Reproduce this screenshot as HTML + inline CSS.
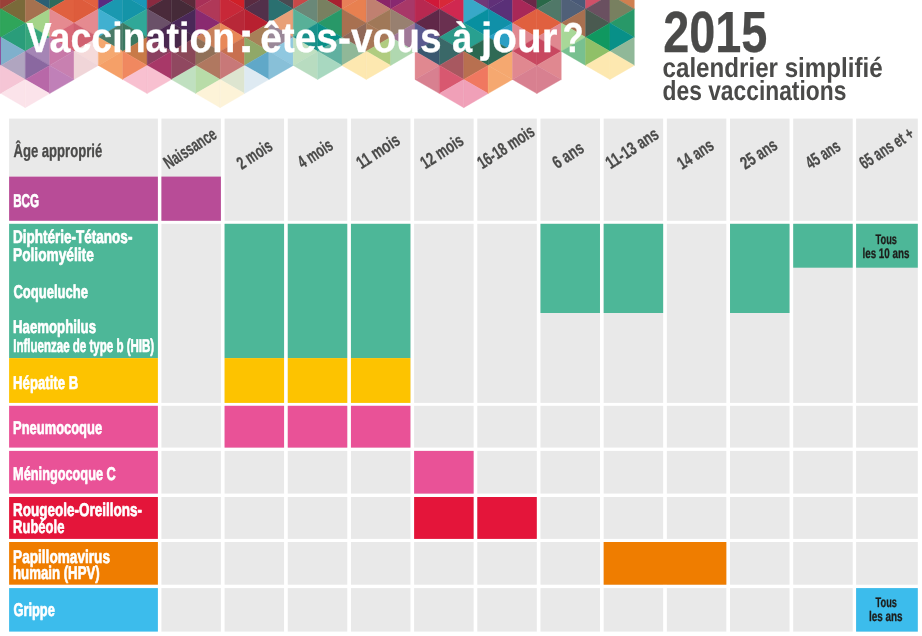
<!DOCTYPE html>
<html lang="fr"><head><meta charset="utf-8"><title>Vaccination : êtes-vous à jour ?</title>
<style>
html,body{margin:0;padding:0;background:#fff;overflow:hidden;}
svg{display:block;}
text{font-family:"Liberation Sans",sans-serif;font-weight:700;}
</style></head><body>
<svg width="922" height="636" viewBox="0 0 922 636" shape-rendering="geometricPrecision" text-rendering="geometricPrecision">
<g shape-rendering="geometricPrecision"><polygon points="0.94,-19.20 0.94,9.00 -23.42,-5.10" fill="#9a4038" stroke="#9a4038" stroke-width="0.4"/>
<polygon points="-23.42,-5.10 -23.42,23.09 0.94,9.00" fill="#2fa55a" stroke="#2fa55a" stroke-width="0.4"/>
<polygon points="0.94,9.00 0.94,37.19 -23.42,23.09" fill="#2fa55a" stroke="#2fa55a" stroke-width="0.4"/>
<polygon points="-23.42,23.09 -23.42,51.28 0.94,37.19" fill="#8a2a8a" stroke="#8a2a8a" stroke-width="0.4"/>
<polygon points="0.94,37.19 0.94,65.38 -23.42,51.28" fill="#8a2a8a" stroke="#8a2a8a" stroke-width="0.4"/>
<polygon points="-23.42,51.28 -23.42,79.47 0.94,65.38" fill="#f5c5d5" stroke="#f5c5d5" stroke-width="0.4"/>
<polygon points="0.94,65.38 0.94,93.57 -23.42,79.47" fill="#f5c5d5" stroke="#f5c5d5" stroke-width="0.4"/>
<polygon points="0.94,-19.20 0.94,9.00 25.30,-5.10" fill="#9a4038" stroke="#9a4038" stroke-width="0.4"/>
<polygon points="25.30,-5.10 25.30,23.09 0.94,9.00" fill="#7a6a3a" stroke="#7a6a3a" stroke-width="0.4"/>
<polygon points="0.94,9.00 0.94,37.19 25.30,23.09" fill="#2fa55a" stroke="#2fa55a" stroke-width="0.4"/>
<polygon points="25.30,23.09 25.30,51.28 0.94,37.19" fill="#2a9d7a" stroke="#2a9d7a" stroke-width="0.4"/>
<polygon points="0.94,37.19 0.94,65.38 25.30,51.28" fill="#7fb0cc" stroke="#7fb0cc" stroke-width="0.4"/>
<polygon points="25.30,51.28 25.30,79.47 0.94,65.38" fill="#b0a5c0" stroke="#b0a5c0" stroke-width="0.4"/>
<polygon points="0.94,65.38 0.94,93.57 25.30,79.47" fill="#f5c5d5" stroke="#f5c5d5" stroke-width="0.4"/>
<polygon points="25.30,79.47 25.30,107.66 0.94,93.57" fill="#fbe3ea" stroke="#fbe3ea" stroke-width="0.4"/>
<polygon points="49.66,-19.20 49.66,9.00 25.30,-5.10" fill="#2b5f74" stroke="#2b5f74" stroke-width="0.4"/>
<polygon points="25.30,-5.10 25.30,23.09 49.66,9.00" fill="#a5714f" stroke="#a5714f" stroke-width="0.4"/>
<polygon points="49.66,9.00 49.66,37.19 25.30,23.09" fill="#a5d48a" stroke="#a5d48a" stroke-width="0.4"/>
<polygon points="25.30,23.09 25.30,51.28 49.66,37.19" fill="#35a57c" stroke="#35a57c" stroke-width="0.4"/>
<polygon points="49.66,37.19 49.66,65.38 25.30,51.28" fill="#a585b5" stroke="#a585b5" stroke-width="0.4"/>
<polygon points="25.30,51.28 25.30,79.47 49.66,65.38" fill="#8a68a0" stroke="#8a68a0" stroke-width="0.4"/>
<polygon points="49.66,65.38 49.66,93.57 25.30,79.47" fill="#b868a8" stroke="#b868a8" stroke-width="0.4"/>
<polygon points="25.30,79.47 25.30,107.66 49.66,93.57" fill="#fbe3ea" stroke="#fbe3ea" stroke-width="0.4"/>
<polygon points="49.66,-19.20 49.66,9.00 74.02,-5.10" fill="#2d6b5c" stroke="#2d6b5c" stroke-width="0.4"/>
<polygon points="74.02,-5.10 74.02,23.09 49.66,9.00" fill="#e0603f" stroke="#e0603f" stroke-width="0.4"/>
<polygon points="49.66,9.00 49.66,37.19 74.02,23.09" fill="#e58a90" stroke="#e58a90" stroke-width="0.4"/>
<polygon points="74.02,23.09 74.02,51.28 49.66,37.19" fill="#d86878" stroke="#d86878" stroke-width="0.4"/>
<polygon points="49.66,37.19 49.66,65.38 74.02,51.28" fill="#c878a8" stroke="#c878a8" stroke-width="0.4"/>
<polygon points="74.02,51.28 74.02,79.47 49.66,65.38" fill="#c880b0" stroke="#c880b0" stroke-width="0.4"/>
<polygon points="49.66,65.38 49.66,93.57 74.02,79.47" fill="#c080b8" stroke="#c080b8" stroke-width="0.4"/>
<polygon points="98.38,-19.20 98.38,9.00 74.02,-5.10" fill="#e2603f" stroke="#e2603f" stroke-width="0.4"/>
<polygon points="74.02,-5.10 74.02,23.09 98.38,9.00" fill="#de5c3c" stroke="#de5c3c" stroke-width="0.4"/>
<polygon points="98.38,9.00 98.38,37.19 74.02,23.09" fill="#e58a90" stroke="#e58a90" stroke-width="0.4"/>
<polygon points="74.02,23.09 74.02,51.28 98.38,37.19" fill="#d06070" stroke="#d06070" stroke-width="0.4"/>
<polygon points="98.38,37.19 98.38,65.38 74.02,51.28" fill="#f5dada" stroke="#f5dada" stroke-width="0.4"/>
<polygon points="74.02,51.28 74.02,79.47 98.38,65.38" fill="#f0d5d8" stroke="#f0d5d8" stroke-width="0.4"/>
<polygon points="98.38,-19.20 98.38,9.00 122.74,-5.10" fill="#5a2a80" stroke="#5a2a80" stroke-width="0.4"/>
<polygon points="122.74,-5.10 122.74,23.09 98.38,9.00" fill="#1a98b0" stroke="#1a98b0" stroke-width="0.4"/>
<polygon points="98.38,9.00 98.38,37.19 122.74,23.09" fill="#40b0d0" stroke="#40b0d0" stroke-width="0.4"/>
<polygon points="122.74,23.09 122.74,51.28 98.38,37.19" fill="#4a7a68" stroke="#4a7a68" stroke-width="0.4"/>
<polygon points="98.38,37.19 98.38,65.38 122.74,51.28" fill="#f5a870" stroke="#f5a870" stroke-width="0.4"/>
<polygon points="122.74,51.28 122.74,79.47 98.38,65.38" fill="#f5a068" stroke="#f5a068" stroke-width="0.4"/>
<polygon points="147.10,-19.20 147.10,9.00 122.74,-5.10" fill="#1a98b8" stroke="#1a98b8" stroke-width="0.4"/>
<polygon points="122.74,-5.10 122.74,23.09 147.10,9.00" fill="#1494a8" stroke="#1494a8" stroke-width="0.4"/>
<polygon points="147.10,9.00 147.10,37.19 122.74,23.09" fill="#30a898" stroke="#30a898" stroke-width="0.4"/>
<polygon points="122.74,23.09 122.74,51.28 147.10,37.19" fill="#3a7860" stroke="#3a7860" stroke-width="0.4"/>
<polygon points="147.10,37.19 147.10,65.38 122.74,51.28" fill="#c87a48" stroke="#c87a48" stroke-width="0.4"/>
<polygon points="122.74,51.28 122.74,79.47 147.10,65.38" fill="#f08860" stroke="#f08860" stroke-width="0.4"/>
<polygon points="147.10,65.38 147.10,93.57 122.74,79.47" fill="#f8c0d0" stroke="#f8c0d0" stroke-width="0.4"/>
<polygon points="147.10,-19.20 147.10,9.00 171.46,-5.10" fill="#8a2a40" stroke="#8a2a40" stroke-width="0.4"/>
<polygon points="171.46,-5.10 171.46,23.09 147.10,9.00" fill="#4a2a3a" stroke="#4a2a3a" stroke-width="0.4"/>
<polygon points="147.10,9.00 147.10,37.19 171.46,23.09" fill="#6a5068" stroke="#6a5068" stroke-width="0.4"/>
<polygon points="171.46,23.09 171.46,51.28 147.10,37.19" fill="#4a2850" stroke="#4a2850" stroke-width="0.4"/>
<polygon points="147.10,37.19 147.10,65.38 171.46,51.28" fill="#8a4060" stroke="#8a4060" stroke-width="0.4"/>
<polygon points="171.46,51.28 171.46,79.47 147.10,65.38" fill="#a83868" stroke="#a83868" stroke-width="0.4"/>
<polygon points="147.10,65.38 147.10,93.57 171.46,79.47" fill="#f8c0d0" stroke="#f8c0d0" stroke-width="0.4"/>
<polygon points="195.82,-19.20 195.82,9.00 171.46,-5.10" fill="#5a2a3a" stroke="#5a2a3a" stroke-width="0.4"/>
<polygon points="171.46,-5.10 171.46,23.09 195.82,9.00" fill="#452a38" stroke="#452a38" stroke-width="0.4"/>
<polygon points="195.82,9.00 195.82,37.19 171.46,23.09" fill="#4a2858" stroke="#4a2858" stroke-width="0.4"/>
<polygon points="171.46,23.09 171.46,51.28 195.82,37.19" fill="#48284a" stroke="#48284a" stroke-width="0.4"/>
<polygon points="195.82,37.19 195.82,65.38 171.46,51.28" fill="#8a4858" stroke="#8a4858" stroke-width="0.4"/>
<polygon points="171.46,51.28 171.46,79.47 195.82,65.38" fill="#904860" stroke="#904860" stroke-width="0.4"/>
<polygon points="195.82,65.38 195.82,93.57 171.46,79.47" fill="#c0e0c0" stroke="#c0e0c0" stroke-width="0.4"/>
<polygon points="195.82,-19.20 195.82,9.00 220.18,-5.10" fill="#a83058" stroke="#a83058" stroke-width="0.4"/>
<polygon points="220.18,-5.10 220.18,23.09 195.82,9.00" fill="#b03858" stroke="#b03858" stroke-width="0.4"/>
<polygon points="195.82,9.00 195.82,37.19 220.18,23.09" fill="#8a2a70" stroke="#8a2a70" stroke-width="0.4"/>
<polygon points="220.18,23.09 220.18,51.28 195.82,37.19" fill="#c8805a" stroke="#c8805a" stroke-width="0.4"/>
<polygon points="195.82,37.19 195.82,65.38 220.18,51.28" fill="#907058" stroke="#907058" stroke-width="0.4"/>
<polygon points="220.18,51.28 220.18,79.47 195.82,65.38" fill="#b07860" stroke="#b07860" stroke-width="0.4"/>
<polygon points="195.82,65.38 195.82,93.57 220.18,79.47" fill="#b8dca8" stroke="#b8dca8" stroke-width="0.4"/>
<polygon points="220.18,79.47 220.18,107.66 195.82,93.57" fill="#fdf3d8" stroke="#fdf3d8" stroke-width="0.4"/>
<polygon points="244.54,-19.20 244.54,9.00 220.18,-5.10" fill="#d02028" stroke="#d02028" stroke-width="0.4"/>
<polygon points="220.18,-5.10 220.18,23.09 244.54,9.00" fill="#c82838" stroke="#c82838" stroke-width="0.4"/>
<polygon points="244.54,9.00 244.54,37.19 220.18,23.09" fill="#b82838" stroke="#b82838" stroke-width="0.4"/>
<polygon points="220.18,23.09 220.18,51.28 244.54,37.19" fill="#e88858" stroke="#e88858" stroke-width="0.4"/>
<polygon points="244.54,37.19 244.54,65.38 220.18,51.28" fill="#c87050" stroke="#c87050" stroke-width="0.4"/>
<polygon points="220.18,51.28 220.18,79.47 244.54,65.38" fill="#c87878" stroke="#c87878" stroke-width="0.4"/>
<polygon points="244.54,65.38 244.54,93.57 220.18,79.47" fill="#dde5d0" stroke="#dde5d0" stroke-width="0.4"/>
<polygon points="220.18,79.47 220.18,107.66 244.54,93.57" fill="#fdf3d8" stroke="#fdf3d8" stroke-width="0.4"/>
<polygon points="244.54,-19.20 244.54,9.00 268.90,-5.10" fill="#5a2a40" stroke="#5a2a40" stroke-width="0.4"/>
<polygon points="268.90,-5.10 268.90,23.09 244.54,9.00" fill="#52304a" stroke="#52304a" stroke-width="0.4"/>
<polygon points="244.54,9.00 244.54,37.19 268.90,23.09" fill="#b82030" stroke="#b82030" stroke-width="0.4"/>
<polygon points="268.90,23.09 268.90,51.28 244.54,37.19" fill="#a88058" stroke="#a88058" stroke-width="0.4"/>
<polygon points="244.54,37.19 244.54,65.38 268.90,51.28" fill="#90a868" stroke="#90a868" stroke-width="0.4"/>
<polygon points="268.90,51.28 268.90,79.47 244.54,65.38" fill="#60a8c8" stroke="#60a8c8" stroke-width="0.4"/>
<polygon points="244.54,65.38 244.54,93.57 268.90,79.47" fill="#deeaf2" stroke="#deeaf2" stroke-width="0.4"/>
<polygon points="293.26,-19.20 293.26,9.00 268.90,-5.10" fill="#4a4a52" stroke="#4a4a52" stroke-width="0.4"/>
<polygon points="268.90,-5.10 268.90,23.09 293.26,9.00" fill="#2a7070" stroke="#2a7070" stroke-width="0.4"/>
<polygon points="293.26,9.00 293.26,37.19 268.90,23.09" fill="#e8a078" stroke="#e8a078" stroke-width="0.4"/>
<polygon points="268.90,23.09 268.90,51.28 293.26,37.19" fill="#9a8898" stroke="#9a8898" stroke-width="0.4"/>
<polygon points="293.26,37.19 293.26,65.38 268.90,51.28" fill="#90c8e0" stroke="#90c8e0" stroke-width="0.4"/>
<polygon points="268.90,51.28 268.90,79.47 293.26,65.38" fill="#88c0d8" stroke="#88c0d8" stroke-width="0.4"/>
<polygon points="293.26,-19.20 293.26,9.00 317.62,-5.10" fill="#c84848" stroke="#c84848" stroke-width="0.4"/>
<polygon points="317.62,-5.10 317.62,23.09 293.26,9.00" fill="#6a8878" stroke="#6a8878" stroke-width="0.4"/>
<polygon points="293.26,9.00 293.26,37.19 317.62,23.09" fill="#58b098" stroke="#58b098" stroke-width="0.4"/>
<polygon points="317.62,23.09 317.62,51.28 293.26,37.19" fill="#18908a" stroke="#18908a" stroke-width="0.4"/>
<polygon points="293.26,37.19 293.26,65.38 317.62,51.28" fill="#c0e0c0" stroke="#c0e0c0" stroke-width="0.4"/>
<polygon points="317.62,51.28 317.62,79.47 293.26,65.38" fill="#b8dcc0" stroke="#b8dcc0" stroke-width="0.4"/>
<polygon points="341.98,-19.20 341.98,9.00 317.62,-5.10" fill="#a82030" stroke="#a82030" stroke-width="0.4"/>
<polygon points="317.62,-5.10 317.62,23.09 341.98,9.00" fill="#788060" stroke="#788060" stroke-width="0.4"/>
<polygon points="341.98,9.00 341.98,37.19 317.62,23.09" fill="#289868" stroke="#289868" stroke-width="0.4"/>
<polygon points="317.62,23.09 317.62,51.28 341.98,37.19" fill="#089088" stroke="#089088" stroke-width="0.4"/>
<polygon points="341.98,37.19 341.98,65.38 317.62,51.28" fill="#60b0a0" stroke="#60b0a0" stroke-width="0.4"/>
<polygon points="317.62,51.28 317.62,79.47 341.98,65.38" fill="#a8d8c0" stroke="#a8d8c0" stroke-width="0.4"/>
<polygon points="341.98,-19.20 341.98,9.00 366.34,-5.10" fill="#e88058" stroke="#e88058" stroke-width="0.4"/>
<polygon points="366.34,-5.10 366.34,23.09 341.98,9.00" fill="#e88050" stroke="#e88050" stroke-width="0.4"/>
<polygon points="341.98,9.00 341.98,37.19 366.34,23.09" fill="#a87050" stroke="#a87050" stroke-width="0.4"/>
<polygon points="366.34,23.09 366.34,51.28 341.98,37.19" fill="#906858" stroke="#906858" stroke-width="0.4"/>
<polygon points="341.98,37.19 341.98,65.38 366.34,51.28" fill="#90b898" stroke="#90b898" stroke-width="0.4"/>
<polygon points="366.34,51.28 366.34,79.47 341.98,65.38" fill="#fde8b0" stroke="#fde8b0" stroke-width="0.4"/>
<polygon points="390.70,-19.20 390.70,9.00 366.34,-5.10" fill="#8a2468" stroke="#8a2468" stroke-width="0.4"/>
<polygon points="366.34,-5.10 366.34,23.09 390.70,9.00" fill="#c08070" stroke="#c08070" stroke-width="0.4"/>
<polygon points="390.70,9.00 390.70,37.19 366.34,23.09" fill="#a07858" stroke="#a07858" stroke-width="0.4"/>
<polygon points="366.34,23.09 366.34,51.28 390.70,37.19" fill="#a87858" stroke="#a87858" stroke-width="0.4"/>
<polygon points="390.70,37.19 390.70,65.38 366.34,51.28" fill="#b0cc80" stroke="#b0cc80" stroke-width="0.4"/>
<polygon points="366.34,51.28 366.34,79.47 390.70,65.38" fill="#fde8b0" stroke="#fde8b0" stroke-width="0.4"/>
<polygon points="390.70,-19.20 390.70,9.00 415.06,-5.10" fill="#882870" stroke="#882870" stroke-width="0.4"/>
<polygon points="415.06,-5.10 415.06,23.09 390.70,9.00" fill="#a83868" stroke="#a83868" stroke-width="0.4"/>
<polygon points="390.70,9.00 390.70,37.19 415.06,23.09" fill="#988070" stroke="#988070" stroke-width="0.4"/>
<polygon points="415.06,23.09 415.06,51.28 390.70,37.19" fill="#a07898" stroke="#a07898" stroke-width="0.4"/>
<polygon points="390.70,37.19 390.70,65.38 415.06,51.28" fill="#b0d8b0" stroke="#b0d8b0" stroke-width="0.4"/>
<polygon points="439.42,-19.20 439.42,9.00 415.06,-5.10" fill="#d01838" stroke="#d01838" stroke-width="0.4"/>
<polygon points="415.06,-5.10 415.06,23.09 439.42,9.00" fill="#b82850" stroke="#b82850" stroke-width="0.4"/>
<polygon points="439.42,9.00 439.42,37.19 415.06,23.09" fill="#602848" stroke="#602848" stroke-width="0.4"/>
<polygon points="415.06,23.09 415.06,51.28 439.42,37.19" fill="#5a5a90" stroke="#5a5a90" stroke-width="0.4"/>
<polygon points="439.42,37.19 439.42,65.38 415.06,51.28" fill="#3a5870" stroke="#3a5870" stroke-width="0.4"/>
<polygon points="415.06,51.28 415.06,79.47 439.42,65.38" fill="#e08890" stroke="#e08890" stroke-width="0.4"/>
<polygon points="439.42,65.38 439.42,93.57 415.06,79.47" fill="#d88090" stroke="#d88090" stroke-width="0.4"/>
<polygon points="439.42,-19.20 439.42,9.00 463.78,-5.10" fill="#d82838" stroke="#d82838" stroke-width="0.4"/>
<polygon points="463.78,-5.10 463.78,23.09 439.42,9.00" fill="#d02850" stroke="#d02850" stroke-width="0.4"/>
<polygon points="439.42,9.00 439.42,37.19 463.78,23.09" fill="#6a3050" stroke="#6a3050" stroke-width="0.4"/>
<polygon points="463.78,23.09 463.78,51.28 439.42,37.19" fill="#2a9888" stroke="#2a9888" stroke-width="0.4"/>
<polygon points="439.42,37.19 439.42,65.38 463.78,51.28" fill="#3a6868" stroke="#3a6868" stroke-width="0.4"/>
<polygon points="463.78,51.28 463.78,79.47 439.42,65.38" fill="#a85860" stroke="#a85860" stroke-width="0.4"/>
<polygon points="439.42,65.38 439.42,93.57 463.78,79.47" fill="#d85870" stroke="#d85870" stroke-width="0.4"/>
<polygon points="463.78,79.47 463.78,107.66 439.42,93.57" fill="#f0a0b8" stroke="#f0a0b8" stroke-width="0.4"/>
<polygon points="488.14,-19.20 488.14,9.00 463.78,-5.10" fill="#703878" stroke="#703878" stroke-width="0.4"/>
<polygon points="463.78,-5.10 463.78,23.09 488.14,9.00" fill="#38a8c8" stroke="#38a8c8" stroke-width="0.4"/>
<polygon points="488.14,9.00 488.14,37.19 463.78,23.09" fill="#0890a0" stroke="#0890a0" stroke-width="0.4"/>
<polygon points="463.78,23.09 463.78,51.28 488.14,37.19" fill="#28a090" stroke="#28a090" stroke-width="0.4"/>
<polygon points="488.14,37.19 488.14,65.38 463.78,51.28" fill="#2a6850" stroke="#2a6850" stroke-width="0.4"/>
<polygon points="463.78,51.28 463.78,79.47 488.14,65.38" fill="#b87050" stroke="#b87050" stroke-width="0.4"/>
<polygon points="488.14,65.38 488.14,93.57 463.78,79.47" fill="#f07860" stroke="#f07860" stroke-width="0.4"/>
<polygon points="463.78,79.47 463.78,107.66 488.14,93.57" fill="#f0a0b8" stroke="#f0a0b8" stroke-width="0.4"/>
<polygon points="488.14,-19.20 488.14,9.00 512.50,-5.10" fill="#603078" stroke="#603078" stroke-width="0.4"/>
<polygon points="512.50,-5.10 512.50,23.09 488.14,9.00" fill="#5a3078" stroke="#5a3078" stroke-width="0.4"/>
<polygon points="488.14,9.00 488.14,37.19 512.50,23.09" fill="#1090a8" stroke="#1090a8" stroke-width="0.4"/>
<polygon points="512.50,23.09 512.50,51.28 488.14,37.19" fill="#2a9fc4" stroke="#2a9fc4" stroke-width="0.4"/>
<polygon points="488.14,37.19 488.14,65.38 512.50,51.28" fill="#2f6a55" stroke="#2f6a55" stroke-width="0.4"/>
<polygon points="512.50,51.28 512.50,79.47 488.14,65.38" fill="#f5a870" stroke="#f5a870" stroke-width="0.4"/>
<polygon points="488.14,65.38 488.14,93.57 512.50,79.47" fill="#f5a870" stroke="#f5a870" stroke-width="0.4"/>
<polygon points="536.86,-19.20 536.86,9.00 512.50,-5.10" fill="#6a2848" stroke="#6a2848" stroke-width="0.4"/>
<polygon points="512.50,-5.10 512.50,23.09 536.86,9.00" fill="#a82858" stroke="#a82858" stroke-width="0.4"/>
<polygon points="536.86,9.00 536.86,37.19 512.50,23.09" fill="#e0603f" stroke="#e0603f" stroke-width="0.4"/>
<polygon points="512.50,23.09 512.50,51.28 536.86,37.19" fill="#e08890" stroke="#e08890" stroke-width="0.4"/>
<polygon points="536.86,37.19 536.86,65.38 512.50,51.28" fill="#c84860" stroke="#c84860" stroke-width="0.4"/>
<polygon points="512.50,51.28 512.50,79.47 536.86,65.38" fill="#e08890" stroke="#e08890" stroke-width="0.4"/>
<polygon points="536.86,65.38 536.86,93.57 512.50,79.47" fill="#d88090" stroke="#d88090" stroke-width="0.4"/>
<polygon points="536.86,-19.20 536.86,9.00 561.22,-5.10" fill="#2a6848" stroke="#2a6848" stroke-width="0.4"/>
<polygon points="561.22,-5.10 561.22,23.09 536.86,9.00" fill="#507868" stroke="#507868" stroke-width="0.4"/>
<polygon points="536.86,9.00 536.86,37.19 561.22,23.09" fill="#e0603f" stroke="#e0603f" stroke-width="0.4"/>
<polygon points="561.22,23.09 561.22,51.28 536.86,37.19" fill="#e08890" stroke="#e08890" stroke-width="0.4"/>
<polygon points="536.86,37.19 536.86,65.38 561.22,51.28" fill="#c84860" stroke="#c84860" stroke-width="0.4"/>
<polygon points="561.22,51.28 561.22,79.47 536.86,65.38" fill="#e08890" stroke="#e08890" stroke-width="0.4"/>
<polygon points="536.86,65.38 536.86,93.57 561.22,79.47" fill="#d88090" stroke="#d88090" stroke-width="0.4"/>
<polygon points="585.58,-19.20 585.58,9.00 561.22,-5.10" fill="#4a5a78" stroke="#4a5a78" stroke-width="0.4"/>
<polygon points="561.22,-5.10 561.22,23.09 585.58,9.00" fill="#506078" stroke="#506078" stroke-width="0.4"/>
<polygon points="585.58,9.00 585.58,37.19 561.22,23.09" fill="#a87050" stroke="#a87050" stroke-width="0.4"/>
<polygon points="561.22,23.09 561.22,51.28 585.58,37.19" fill="#a8d898" stroke="#a8d898" stroke-width="0.4"/>
<polygon points="585.58,37.19 585.58,65.38 561.22,51.28" fill="#78c090" stroke="#78c090" stroke-width="0.4"/>
<polygon points="585.58,-19.20 585.58,9.00 609.94,-5.10" fill="#d05068" stroke="#d05068" stroke-width="0.4"/>
<polygon points="609.94,-5.10 609.94,23.09 585.58,9.00" fill="#6a5060" stroke="#6a5060" stroke-width="0.4"/>
<polygon points="585.58,9.00 585.58,37.19 609.94,23.09" fill="#4a5a50" stroke="#4a5a50" stroke-width="0.4"/>
<polygon points="609.94,23.09 609.94,51.28 585.58,37.19" fill="#109860" stroke="#109860" stroke-width="0.4"/>
<polygon points="585.58,37.19 585.58,65.38 609.94,51.28" fill="#90c068" stroke="#90c068" stroke-width="0.4"/>
<polygon points="609.94,51.28 609.94,79.47 585.58,65.38" fill="#fde8b0" stroke="#fde8b0" stroke-width="0.4"/>
<polygon points="634.30,-19.20 634.30,9.00 609.94,-5.10" fill="#d08050" stroke="#d08050" stroke-width="0.4"/>
<polygon points="609.94,-5.10 609.94,23.09 634.30,9.00" fill="#788060" stroke="#788060" stroke-width="0.4"/>
<polygon points="634.30,9.00 634.30,37.19 609.94,23.09" fill="#289868" stroke="#289868" stroke-width="0.4"/>
<polygon points="609.94,23.09 609.94,51.28 634.30,37.19" fill="#089088" stroke="#089088" stroke-width="0.4"/>
<polygon points="634.30,37.19 634.30,65.38 609.94,51.28" fill="#90b898" stroke="#90b898" stroke-width="0.4"/>
<polygon points="609.94,51.28 609.94,79.47 634.30,65.38" fill="#fde8b0" stroke="#fde8b0" stroke-width="0.4"/></g>
<rect x="9.10" y="118.60" width="148.80" height="58.00" fill="#e9e9e9"/>
<rect x="9.10" y="176.60" width="148.80" height="44.20" fill="#b84c97"/>
<rect x="9.10" y="223.80" width="148.80" height="134.30" fill="#4db798"/>
<rect x="9.10" y="358.10" width="148.80" height="44.80" fill="#fdc300"/>
<rect x="9.10" y="405.80" width="148.80" height="41.80" fill="#e95297"/>
<rect x="9.10" y="450.90" width="148.80" height="42.70" fill="#e95297"/>
<rect x="9.10" y="497.00" width="148.80" height="41.90" fill="#e4153a"/>
<rect x="9.10" y="542.00" width="148.80" height="42.70" fill="#ef7d00"/>
<rect x="9.10" y="588.10" width="148.80" height="43.50" fill="#3cbcec"/>
<rect x="161.40" y="118.60" width="59.50" height="102.20" fill="#e9e9e9"/>
<rect x="161.40" y="223.80" width="59.50" height="179.10" fill="#e9e9e9"/>
<rect x="161.40" y="405.80" width="59.50" height="41.80" fill="#e9e9e9"/>
<rect x="161.40" y="450.90" width="59.50" height="42.70" fill="#e9e9e9"/>
<rect x="161.40" y="497.00" width="59.50" height="41.90" fill="#e9e9e9"/>
<rect x="161.40" y="542.00" width="59.50" height="42.70" fill="#e9e9e9"/>
<rect x="161.40" y="588.10" width="59.50" height="43.50" fill="#e9e9e9"/>
<rect x="224.58" y="118.60" width="59.50" height="102.20" fill="#e9e9e9"/>
<rect x="224.58" y="223.80" width="59.50" height="179.10" fill="#e9e9e9"/>
<rect x="224.58" y="405.80" width="59.50" height="41.80" fill="#e9e9e9"/>
<rect x="224.58" y="450.90" width="59.50" height="42.70" fill="#e9e9e9"/>
<rect x="224.58" y="497.00" width="59.50" height="41.90" fill="#e9e9e9"/>
<rect x="224.58" y="542.00" width="59.50" height="42.70" fill="#e9e9e9"/>
<rect x="224.58" y="588.10" width="59.50" height="43.50" fill="#e9e9e9"/>
<rect x="287.76" y="118.60" width="59.50" height="102.20" fill="#e9e9e9"/>
<rect x="287.76" y="223.80" width="59.50" height="179.10" fill="#e9e9e9"/>
<rect x="287.76" y="405.80" width="59.50" height="41.80" fill="#e9e9e9"/>
<rect x="287.76" y="450.90" width="59.50" height="42.70" fill="#e9e9e9"/>
<rect x="287.76" y="497.00" width="59.50" height="41.90" fill="#e9e9e9"/>
<rect x="287.76" y="542.00" width="59.50" height="42.70" fill="#e9e9e9"/>
<rect x="287.76" y="588.10" width="59.50" height="43.50" fill="#e9e9e9"/>
<rect x="350.94" y="118.60" width="59.50" height="102.20" fill="#e9e9e9"/>
<rect x="350.94" y="223.80" width="59.50" height="179.10" fill="#e9e9e9"/>
<rect x="350.94" y="405.80" width="59.50" height="41.80" fill="#e9e9e9"/>
<rect x="350.94" y="450.90" width="59.50" height="42.70" fill="#e9e9e9"/>
<rect x="350.94" y="497.00" width="59.50" height="41.90" fill="#e9e9e9"/>
<rect x="350.94" y="542.00" width="59.50" height="42.70" fill="#e9e9e9"/>
<rect x="350.94" y="588.10" width="59.50" height="43.50" fill="#e9e9e9"/>
<rect x="414.12" y="118.60" width="59.50" height="102.20" fill="#e9e9e9"/>
<rect x="414.12" y="223.80" width="59.50" height="179.10" fill="#e9e9e9"/>
<rect x="414.12" y="405.80" width="59.50" height="41.80" fill="#e9e9e9"/>
<rect x="414.12" y="450.90" width="59.50" height="42.70" fill="#e9e9e9"/>
<rect x="414.12" y="497.00" width="59.50" height="41.90" fill="#e9e9e9"/>
<rect x="414.12" y="542.00" width="59.50" height="42.70" fill="#e9e9e9"/>
<rect x="414.12" y="588.10" width="59.50" height="43.50" fill="#e9e9e9"/>
<rect x="477.30" y="118.60" width="59.50" height="102.20" fill="#e9e9e9"/>
<rect x="477.30" y="223.80" width="59.50" height="179.10" fill="#e9e9e9"/>
<rect x="477.30" y="405.80" width="59.50" height="41.80" fill="#e9e9e9"/>
<rect x="477.30" y="450.90" width="59.50" height="42.70" fill="#e9e9e9"/>
<rect x="477.30" y="497.00" width="59.50" height="41.90" fill="#e9e9e9"/>
<rect x="477.30" y="542.00" width="59.50" height="42.70" fill="#e9e9e9"/>
<rect x="477.30" y="588.10" width="59.50" height="43.50" fill="#e9e9e9"/>
<rect x="540.48" y="118.60" width="59.50" height="102.20" fill="#e9e9e9"/>
<rect x="540.48" y="223.80" width="59.50" height="179.10" fill="#e9e9e9"/>
<rect x="540.48" y="405.80" width="59.50" height="41.80" fill="#e9e9e9"/>
<rect x="540.48" y="450.90" width="59.50" height="42.70" fill="#e9e9e9"/>
<rect x="540.48" y="497.00" width="59.50" height="41.90" fill="#e9e9e9"/>
<rect x="540.48" y="542.00" width="59.50" height="42.70" fill="#e9e9e9"/>
<rect x="540.48" y="588.10" width="59.50" height="43.50" fill="#e9e9e9"/>
<rect x="603.66" y="118.60" width="59.50" height="102.20" fill="#e9e9e9"/>
<rect x="603.66" y="223.80" width="59.50" height="179.10" fill="#e9e9e9"/>
<rect x="603.66" y="405.80" width="59.50" height="41.80" fill="#e9e9e9"/>
<rect x="603.66" y="450.90" width="59.50" height="42.70" fill="#e9e9e9"/>
<rect x="603.66" y="497.00" width="59.50" height="41.90" fill="#e9e9e9"/>
<rect x="603.66" y="542.00" width="59.50" height="42.70" fill="#e9e9e9"/>
<rect x="603.66" y="588.10" width="59.50" height="43.50" fill="#e9e9e9"/>
<rect x="666.84" y="118.60" width="59.50" height="102.20" fill="#e9e9e9"/>
<rect x="666.84" y="223.80" width="59.50" height="179.10" fill="#e9e9e9"/>
<rect x="666.84" y="405.80" width="59.50" height="41.80" fill="#e9e9e9"/>
<rect x="666.84" y="450.90" width="59.50" height="42.70" fill="#e9e9e9"/>
<rect x="666.84" y="497.00" width="59.50" height="41.90" fill="#e9e9e9"/>
<rect x="666.84" y="542.00" width="59.50" height="42.70" fill="#e9e9e9"/>
<rect x="666.84" y="588.10" width="59.50" height="43.50" fill="#e9e9e9"/>
<rect x="730.02" y="118.60" width="59.50" height="102.20" fill="#e9e9e9"/>
<rect x="730.02" y="223.80" width="59.50" height="179.10" fill="#e9e9e9"/>
<rect x="730.02" y="405.80" width="59.50" height="41.80" fill="#e9e9e9"/>
<rect x="730.02" y="450.90" width="59.50" height="42.70" fill="#e9e9e9"/>
<rect x="730.02" y="497.00" width="59.50" height="41.90" fill="#e9e9e9"/>
<rect x="730.02" y="542.00" width="59.50" height="42.70" fill="#e9e9e9"/>
<rect x="730.02" y="588.10" width="59.50" height="43.50" fill="#e9e9e9"/>
<rect x="793.20" y="118.60" width="59.50" height="102.20" fill="#e9e9e9"/>
<rect x="793.20" y="223.80" width="59.50" height="179.10" fill="#e9e9e9"/>
<rect x="793.20" y="405.80" width="59.50" height="41.80" fill="#e9e9e9"/>
<rect x="793.20" y="450.90" width="59.50" height="42.70" fill="#e9e9e9"/>
<rect x="793.20" y="497.00" width="59.50" height="41.90" fill="#e9e9e9"/>
<rect x="793.20" y="542.00" width="59.50" height="42.70" fill="#e9e9e9"/>
<rect x="793.20" y="588.10" width="59.50" height="43.50" fill="#e9e9e9"/>
<rect x="856.10" y="118.60" width="61.70" height="102.20" fill="#e9e9e9"/>
<rect x="856.10" y="223.80" width="61.70" height="179.10" fill="#e9e9e9"/>
<rect x="856.10" y="405.80" width="61.70" height="41.80" fill="#e9e9e9"/>
<rect x="856.10" y="450.90" width="61.70" height="42.70" fill="#e9e9e9"/>
<rect x="856.10" y="497.00" width="61.70" height="41.90" fill="#e9e9e9"/>
<rect x="856.10" y="542.00" width="61.70" height="42.70" fill="#e9e9e9"/>
<rect x="856.10" y="588.10" width="61.70" height="43.50" fill="#e9e9e9"/>
<rect x="161.40" y="176.60" width="59.50" height="44.20" fill="#b84c97"/>
<rect x="224.58" y="223.80" width="59.50" height="134.30" fill="#4db798"/>
<rect x="224.58" y="358.10" width="59.50" height="44.80" fill="#fdc300"/>
<rect x="224.58" y="405.80" width="59.50" height="41.80" fill="#e95297"/>
<rect x="287.76" y="223.80" width="59.50" height="134.30" fill="#4db798"/>
<rect x="287.76" y="358.10" width="59.50" height="44.80" fill="#fdc300"/>
<rect x="287.76" y="405.80" width="59.50" height="41.80" fill="#e95297"/>
<rect x="350.94" y="223.80" width="59.50" height="134.30" fill="#4db798"/>
<rect x="350.94" y="358.10" width="59.50" height="44.80" fill="#fdc300"/>
<rect x="350.94" y="405.80" width="59.50" height="41.80" fill="#e95297"/>
<rect x="540.48" y="223.80" width="59.50" height="89.20" fill="#4db798"/>
<rect x="603.66" y="223.80" width="59.50" height="89.20" fill="#4db798"/>
<rect x="730.02" y="223.80" width="59.50" height="89.20" fill="#4db798"/>
<rect x="793.20" y="223.80" width="59.50" height="43.90" fill="#4db798"/>
<rect x="856.10" y="223.80" width="61.70" height="43.90" fill="#4db798"/>
<rect x="414.12" y="450.90" width="59.50" height="42.70" fill="#e95297"/>
<rect x="414.12" y="497.00" width="59.50" height="41.90" fill="#e4153a"/>
<rect x="477.30" y="497.00" width="59.50" height="41.90" fill="#e4153a"/>
<rect x="603.66" y="542.00" width="122.68" height="42.70" fill="#ef7d00"/>
<rect x="856.10" y="588.10" width="61.70" height="43.50" fill="#3cbcec"/>
<text x="13.42" y="157.40" font-size="18.5" fill="#4a4a49" stroke="#4a4a49" stroke-width="0.3" stroke-linejoin="round" textLength="88.87" lengthAdjust="spacingAndGlyphs">Âge approprié</text>
<text x="13.17" y="206.90" font-size="18.5" fill="#ffffff" stroke="#ffffff" stroke-width="0.7" stroke-linejoin="round" textLength="25.91" lengthAdjust="spacingAndGlyphs">BCG</text>
<text x="13.04" y="243.00" font-size="18.5" fill="#ffffff" stroke="#ffffff" stroke-width="0.7" stroke-linejoin="round" textLength="119.35" lengthAdjust="spacingAndGlyphs">Diphtérie-Tétanos-</text>
<text x="13.03" y="260.50" font-size="18.5" fill="#ffffff" stroke="#ffffff" stroke-width="0.7" stroke-linejoin="round" textLength="80.79" lengthAdjust="spacingAndGlyphs">Poliomyélite</text>
<text x="13.41" y="297.70" font-size="18.5" fill="#ffffff" stroke="#ffffff" stroke-width="0.7" stroke-linejoin="round" textLength="74.67" lengthAdjust="spacingAndGlyphs">Coqueluche</text>
<text x="13.07" y="333.40" font-size="18.5" fill="#ffffff" stroke="#ffffff" stroke-width="0.7" stroke-linejoin="round" textLength="82.92" lengthAdjust="spacingAndGlyphs">Haemophilus</text>
<text x="13.18" y="351.80" font-size="18.5" fill="#ffffff" stroke="#ffffff" stroke-width="0.7" stroke-linejoin="round" textLength="141.05" lengthAdjust="spacingAndGlyphs">Influenzae de type b (HIB)</text>
<text x="13.07" y="389.10" font-size="18.5" fill="#ffffff" stroke="#ffffff" stroke-width="0.7" stroke-linejoin="round" textLength="65.18" lengthAdjust="spacingAndGlyphs">Hépatite B</text>
<text x="13.08" y="433.80" font-size="18.5" fill="#ffffff" stroke="#ffffff" stroke-width="0.7" stroke-linejoin="round" textLength="89.00" lengthAdjust="spacingAndGlyphs">Pneumocoque</text>
<text x="13.10" y="480.10" font-size="18.5" fill="#ffffff" stroke="#ffffff" stroke-width="0.7" stroke-linejoin="round" textLength="102.70" lengthAdjust="spacingAndGlyphs">Méningocoque C</text>
<text x="13.05" y="516.00" font-size="18.5" fill="#ffffff" stroke="#ffffff" stroke-width="0.7" stroke-linejoin="round" textLength="128.95" lengthAdjust="spacingAndGlyphs">Rougeole-Oreillons-</text>
<text x="13.08" y="533.40" font-size="18.5" fill="#ffffff" stroke="#ffffff" stroke-width="0.7" stroke-linejoin="round" textLength="51.31" lengthAdjust="spacingAndGlyphs">Rubéole</text>
<text x="13.04" y="562.50" font-size="18.5" fill="#ffffff" stroke="#ffffff" stroke-width="0.7" stroke-linejoin="round" textLength="96.97" lengthAdjust="spacingAndGlyphs">Papillomavirus</text>
<text x="13.02" y="579.00" font-size="18.5" fill="#ffffff" stroke="#ffffff" stroke-width="0.7" stroke-linejoin="round" textLength="86.68" lengthAdjust="spacingAndGlyphs">humain (HPV)</text>
<text x="13.42" y="616.20" font-size="18.5" fill="#ffffff" stroke="#ffffff" stroke-width="0.7" stroke-linejoin="round" textLength="41.36" lengthAdjust="spacingAndGlyphs">Grippe</text>
<text x="26.59" y="52.00" font-size="42" fill="#ffffff" stroke="#ffffff" stroke-width="0.3" stroke-linejoin="round" textLength="208.68" lengthAdjust="spacingAndGlyphs">Vaccination</text>
<text x="237.48" y="52.00" font-size="42" fill="#ffffff" stroke="#ffffff" stroke-width="0.3" stroke-linejoin="round" textLength="17.24" lengthAdjust="spacingAndGlyphs">:</text>
<text x="260.24" y="52.00" font-size="42" fill="#ffffff" stroke="#ffffff" stroke-width="0.3" stroke-linejoin="round" textLength="181.33" lengthAdjust="spacingAndGlyphs">êtes-vous</text>
<text x="452.35" y="52.00" font-size="42" fill="#ffffff" stroke="#ffffff" stroke-width="0.3" stroke-linejoin="round" textLength="20.10" lengthAdjust="spacingAndGlyphs">à</text>
<text x="481.10" y="52.00" font-size="42" fill="#ffffff" stroke="#ffffff" stroke-width="0.3" stroke-linejoin="round" textLength="76.25" lengthAdjust="spacingAndGlyphs">jour</text>
<text x="562.55" y="52.00" font-size="42" fill="#ffffff" stroke="#ffffff" stroke-width="0.3" stroke-linejoin="round" textLength="21.20" lengthAdjust="spacingAndGlyphs">?</text>
<text x="663.21" y="52.20" font-size="58" fill="#4a4a49" stroke="#4a4a49" stroke-width="0.3" stroke-linejoin="round" textLength="104.18" lengthAdjust="spacingAndGlyphs">2015</text>
<text x="662.56" y="76.70" font-size="27.5" fill="#4a4a49" textLength="220.06" lengthAdjust="spacingAndGlyphs">calendrier simplifié</text>
<text x="662.57" y="100.10" font-size="27.5" fill="#4a4a49" textLength="183.77" lengthAdjust="spacingAndGlyphs">des vaccinations</text>
<text transform="translate(169.3 169.0) rotate(-33)" x="-0.91" y="0.00" font-size="18" fill="#4a4a49" font-weight="400" stroke="#4a4a49" stroke-width="0.25" stroke-linejoin="round" textLength="59.14" lengthAdjust="spacingAndGlyphs">Naissance</text>
<text transform="translate(242.1 169.6) rotate(-33)" x="-0.53" y="0.00" font-size="18" fill="#4a4a49" font-weight="400" stroke="#4a4a49" stroke-width="0.25" stroke-linejoin="round" textLength="38.31" lengthAdjust="spacingAndGlyphs">2 mois</text>
<text transform="translate(302.7 169.0) rotate(-33)" x="-0.17" y="0.00" font-size="18" fill="#4a4a49" font-weight="400" stroke="#4a4a49" stroke-width="0.25" stroke-linejoin="round" textLength="37.95" lengthAdjust="spacingAndGlyphs">4 mois</text>
<text transform="translate(362.0 169.0) rotate(-33)" x="-0.94" y="0.00" font-size="18" fill="#4a4a49" font-weight="400" stroke="#4a4a49" stroke-width="0.25" stroke-linejoin="round" textLength="47.98" lengthAdjust="spacingAndGlyphs">11 mois</text>
<text transform="translate(426.0 169.0) rotate(-33)" x="-0.90" y="0.00" font-size="18" fill="#4a4a49" font-weight="400" stroke="#4a4a49" stroke-width="0.25" stroke-linejoin="round" textLength="47.25" lengthAdjust="spacingAndGlyphs">12 mois</text>
<text transform="translate(483.0 169.0) rotate(-33)" x="-0.86" y="0.00" font-size="18" fill="#4a4a49" font-weight="400" stroke="#4a4a49" stroke-width="0.25" stroke-linejoin="round" textLength="64.08" lengthAdjust="spacingAndGlyphs">16-18 mois</text>
<text transform="translate(557.7 169.0) rotate(-33)" x="-0.57" y="0.00" font-size="18" fill="#4a4a49" font-weight="400" stroke="#4a4a49" stroke-width="0.25" stroke-linejoin="round" textLength="33.39" lengthAdjust="spacingAndGlyphs">6 ans</text>
<text transform="translate(611.3 169.0) rotate(-33)" x="-0.90" y="0.00" font-size="18" fill="#4a4a49" font-weight="400" stroke="#4a4a49" stroke-width="0.25" stroke-linejoin="round" textLength="59.25" lengthAdjust="spacingAndGlyphs">11-13 ans</text>
<text transform="translate(682.8 169.6) rotate(-33)" x="-0.88" y="0.00" font-size="18" fill="#4a4a49" font-weight="400" stroke="#4a4a49" stroke-width="0.25" stroke-linejoin="round" textLength="39.63" lengthAdjust="spacingAndGlyphs">14 ans</text>
<text transform="translate(745.7 169.6) rotate(-33)" x="-0.54" y="0.00" font-size="18" fill="#4a4a49" font-weight="400" stroke="#4a4a49" stroke-width="0.25" stroke-linejoin="round" textLength="40.07" lengthAdjust="spacingAndGlyphs">25 ans</text>
<text transform="translate(810.6 169.6) rotate(-33)" x="-0.16" y="0.00" font-size="18" fill="#4a4a49" font-weight="400" stroke="#4a4a49" stroke-width="0.25" stroke-linejoin="round" textLength="37.35" lengthAdjust="spacingAndGlyphs">45 ans</text>
<text transform="translate(864.7 169.6) rotate(-33)" x="-0.50" y="0.00" font-size="18" fill="#4a4a49" font-weight="400" stroke="#4a4a49" stroke-width="0.25" stroke-linejoin="round" textLength="60.98" lengthAdjust="spacingAndGlyphs">65 ans et +</text>
<text x="875.55" y="243.50" font-size="14" fill="#1d1d1b" stroke="#1d1d1b" stroke-width="0.3" stroke-linejoin="round" textLength="21.38" lengthAdjust="spacingAndGlyphs">Tous</text>
<text x="862.46" y="257.60" font-size="14" fill="#1d1d1b" stroke="#1d1d1b" stroke-width="0.3" stroke-linejoin="round" textLength="46.99" lengthAdjust="spacingAndGlyphs">les 10 ans</text>
<text x="875.55" y="606.70" font-size="14" fill="#1d1d1b" stroke="#1d1d1b" stroke-width="0.3" stroke-linejoin="round" textLength="21.38" lengthAdjust="spacingAndGlyphs">Tous</text>
<text x="868.90" y="621.40" font-size="14" fill="#1d1d1b" stroke="#1d1d1b" stroke-width="0.3" stroke-linejoin="round" textLength="33.70" lengthAdjust="spacingAndGlyphs">les ans</text>
</svg>
</body></html>
